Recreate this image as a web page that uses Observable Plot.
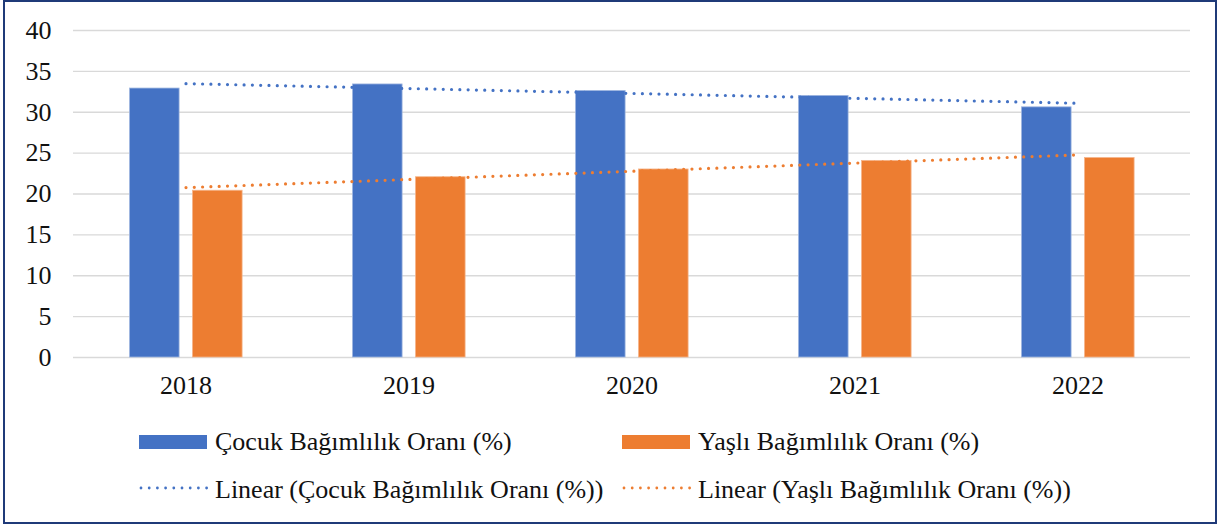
<!DOCTYPE html>
<html>
<head>
<meta charset="utf-8">
<script src="https://cdn.jsdelivr.net/npm/d3@7"></script>
<script src="https://cdn.jsdelivr.net/npm/@observablehq/plot@0.6"></script>
<style>
  body { margin: 0; }
  #frame { position: absolute; left: 3px; top: 0px; width: 1214px; height: 524px; box-sizing: border-box; border: 2px solid #1f3a78; }
  #chart { position: absolute; left: 0; top: 0; }
  .leg { position: absolute; font-size: 26px; color: #111; white-space: nowrap; line-height: 30px; }
  .sw { position: absolute; }
</style>
</head>
<body style="font-family:'Liberation Serif','Times New Roman',serif">
<div id="frame"></div>
<div id="chart"></div>
<div id="legend"></div>
<script>
const years = ["2018", "2019", "2020", "2021", "2022"];
const cocuk = [32.9, 33.4, 32.6, 32.0, 30.6];
const yasli = [20.4, 22.05, 23.0, 24.05, 24.4];
const seriesNames = ["Çocuk Bağımlılık Oranı (%)", "Yaşlı Bağımlılık Oranı (%)"];
const trendNames = ["Linear (Çocuk Bağımlılık Oranı (%))", "Linear (Yaşlı Bağımlılık Oranı (%))"];
const colors = ["#4472c4", "#ed7d31"];
const yTicks = [0, 5, 10, 15, 20, 25, 30, 35, 40];

function trend(vals) {
  const n = vals.length, idx = d3.range(n);
  const mx = d3.mean(idx), my = d3.mean(vals);
  const slope = d3.sum(idx, i => (i - mx) * (vals[i] - my)) / d3.sum(idx, i => (i - mx) ** 2);
  return idx.map(i => my + slope * (i - mx));
}

const dataC = years.map((y, i) => ({year: y, value: cocuk[i]}));
const dataY = years.map((y, i) => ({year: y, value: yasli[i]}));
const trC = trend(cocuk), trY = trend(yasli);
const trendC = years.map((y, i) => ({year: y, value: trC[i]}));
const trendY = years.map((y, i) => ({year: y, value: trY[i]}));

const chart = Plot.plot({
  width: 1217,
  height: 410,
  marginTop: 30,
  marginBottom: 53,
  marginLeft: 73,
  marginRight: 27,
  style: {fontFamily: "serif", fontSize: "26px", background: "transparent"},
  x: {domain: years, padding: 0, label: null},
  y: {domain: [0, 40], ticks: yTicks, label: null},
  marks: [
    Plot.gridY(yTicks, {stroke: "#d9d9d9", strokeOpacity: 1, strokeWidth: 1.4}),
    Plot.barY(dataC, {x: "year", y: "value", fill: colors[0], insetLeft: 55.5, insetRight: 117.9, stroke: "#9fb6e0", strokeWidth: 0.8}),
    Plot.barY(dataY, {x: "year", y: "value", fill: colors[1], insetLeft: 118.5, insetRight: 54.9, stroke: "#f5b58a", strokeWidth: 0.8}),
    Plot.line(trendC, {x: "year", y: "value", stroke: colors[0], strokeWidth: 3.2, strokeDasharray: "0 8.3", strokeLinecap: "round"}),
    Plot.line(trendY, {x: "year", y: "value", stroke: colors[1], strokeWidth: 3.2, strokeDasharray: "0 8.3", strokeLinecap: "round"}),
    Plot.axisY(yTicks, {tickSize: 0, tickPadding: 22, fontSize: 26, fontFamily: "Liberation Serif", fill: "#111"}),
    Plot.axisX({tickSize: 0, tickPadding: 18, fontSize: 26, fontFamily: "Liberation Serif", fill: "#111"})
  ]
});
document.getElementById("chart").appendChild(chart);

// Legend
const legend = document.getElementById("legend");
const items = [
  {kind: "box", color: colors[0], text: seriesNames[0], x: 139, y: 442},
  {kind: "box", color: colors[1], text: seriesNames[1], x: 622, y: 442},
  {kind: "dot", color: colors[0], text: trendNames[0], x: 139, y: 490},
  {kind: "dot", color: colors[1], text: trendNames[1], x: 622, y: 490}
];
for (const it of items) {
  const ns = "http://www.w3.org/2000/svg";
  const svg = document.createElementNS(ns, "svg");
  svg.setAttribute("width", 70); svg.setAttribute("height", 20);
  svg.setAttribute("class", "sw");
  svg.style.left = it.x + "px"; svg.style.top = (it.y - 10) + "px";
  if (it.kind === "box") {
    const r = document.createElementNS(ns, "rect");
    r.setAttribute("x", 0); r.setAttribute("y", 3); r.setAttribute("width", 68); r.setAttribute("height", 14);
    r.setAttribute("fill", it.color);
    svg.appendChild(r);
  } else {
    const l = document.createElementNS(ns, "line");
    l.setAttribute("x1", 2); l.setAttribute("x2", 68); l.setAttribute("y1", 8); l.setAttribute("y2", 8);
    l.setAttribute("stroke", it.color); l.setAttribute("stroke-width", 2.8);
    l.setAttribute("stroke-dasharray", "0 8.2"); l.setAttribute("stroke-linecap", "round");
    svg.appendChild(l);
  }
  legend.appendChild(svg);
  const t = document.createElement("div");
  t.className = "leg";
  t.style.fontFamily = "'Liberation Serif'";
  t.textContent = it.text;
  t.style.left = (it.x + 76) + "px";
  t.style.top = (it.y - 15) + "px";
  legend.appendChild(t);
}
</script>
</body>
</html>
